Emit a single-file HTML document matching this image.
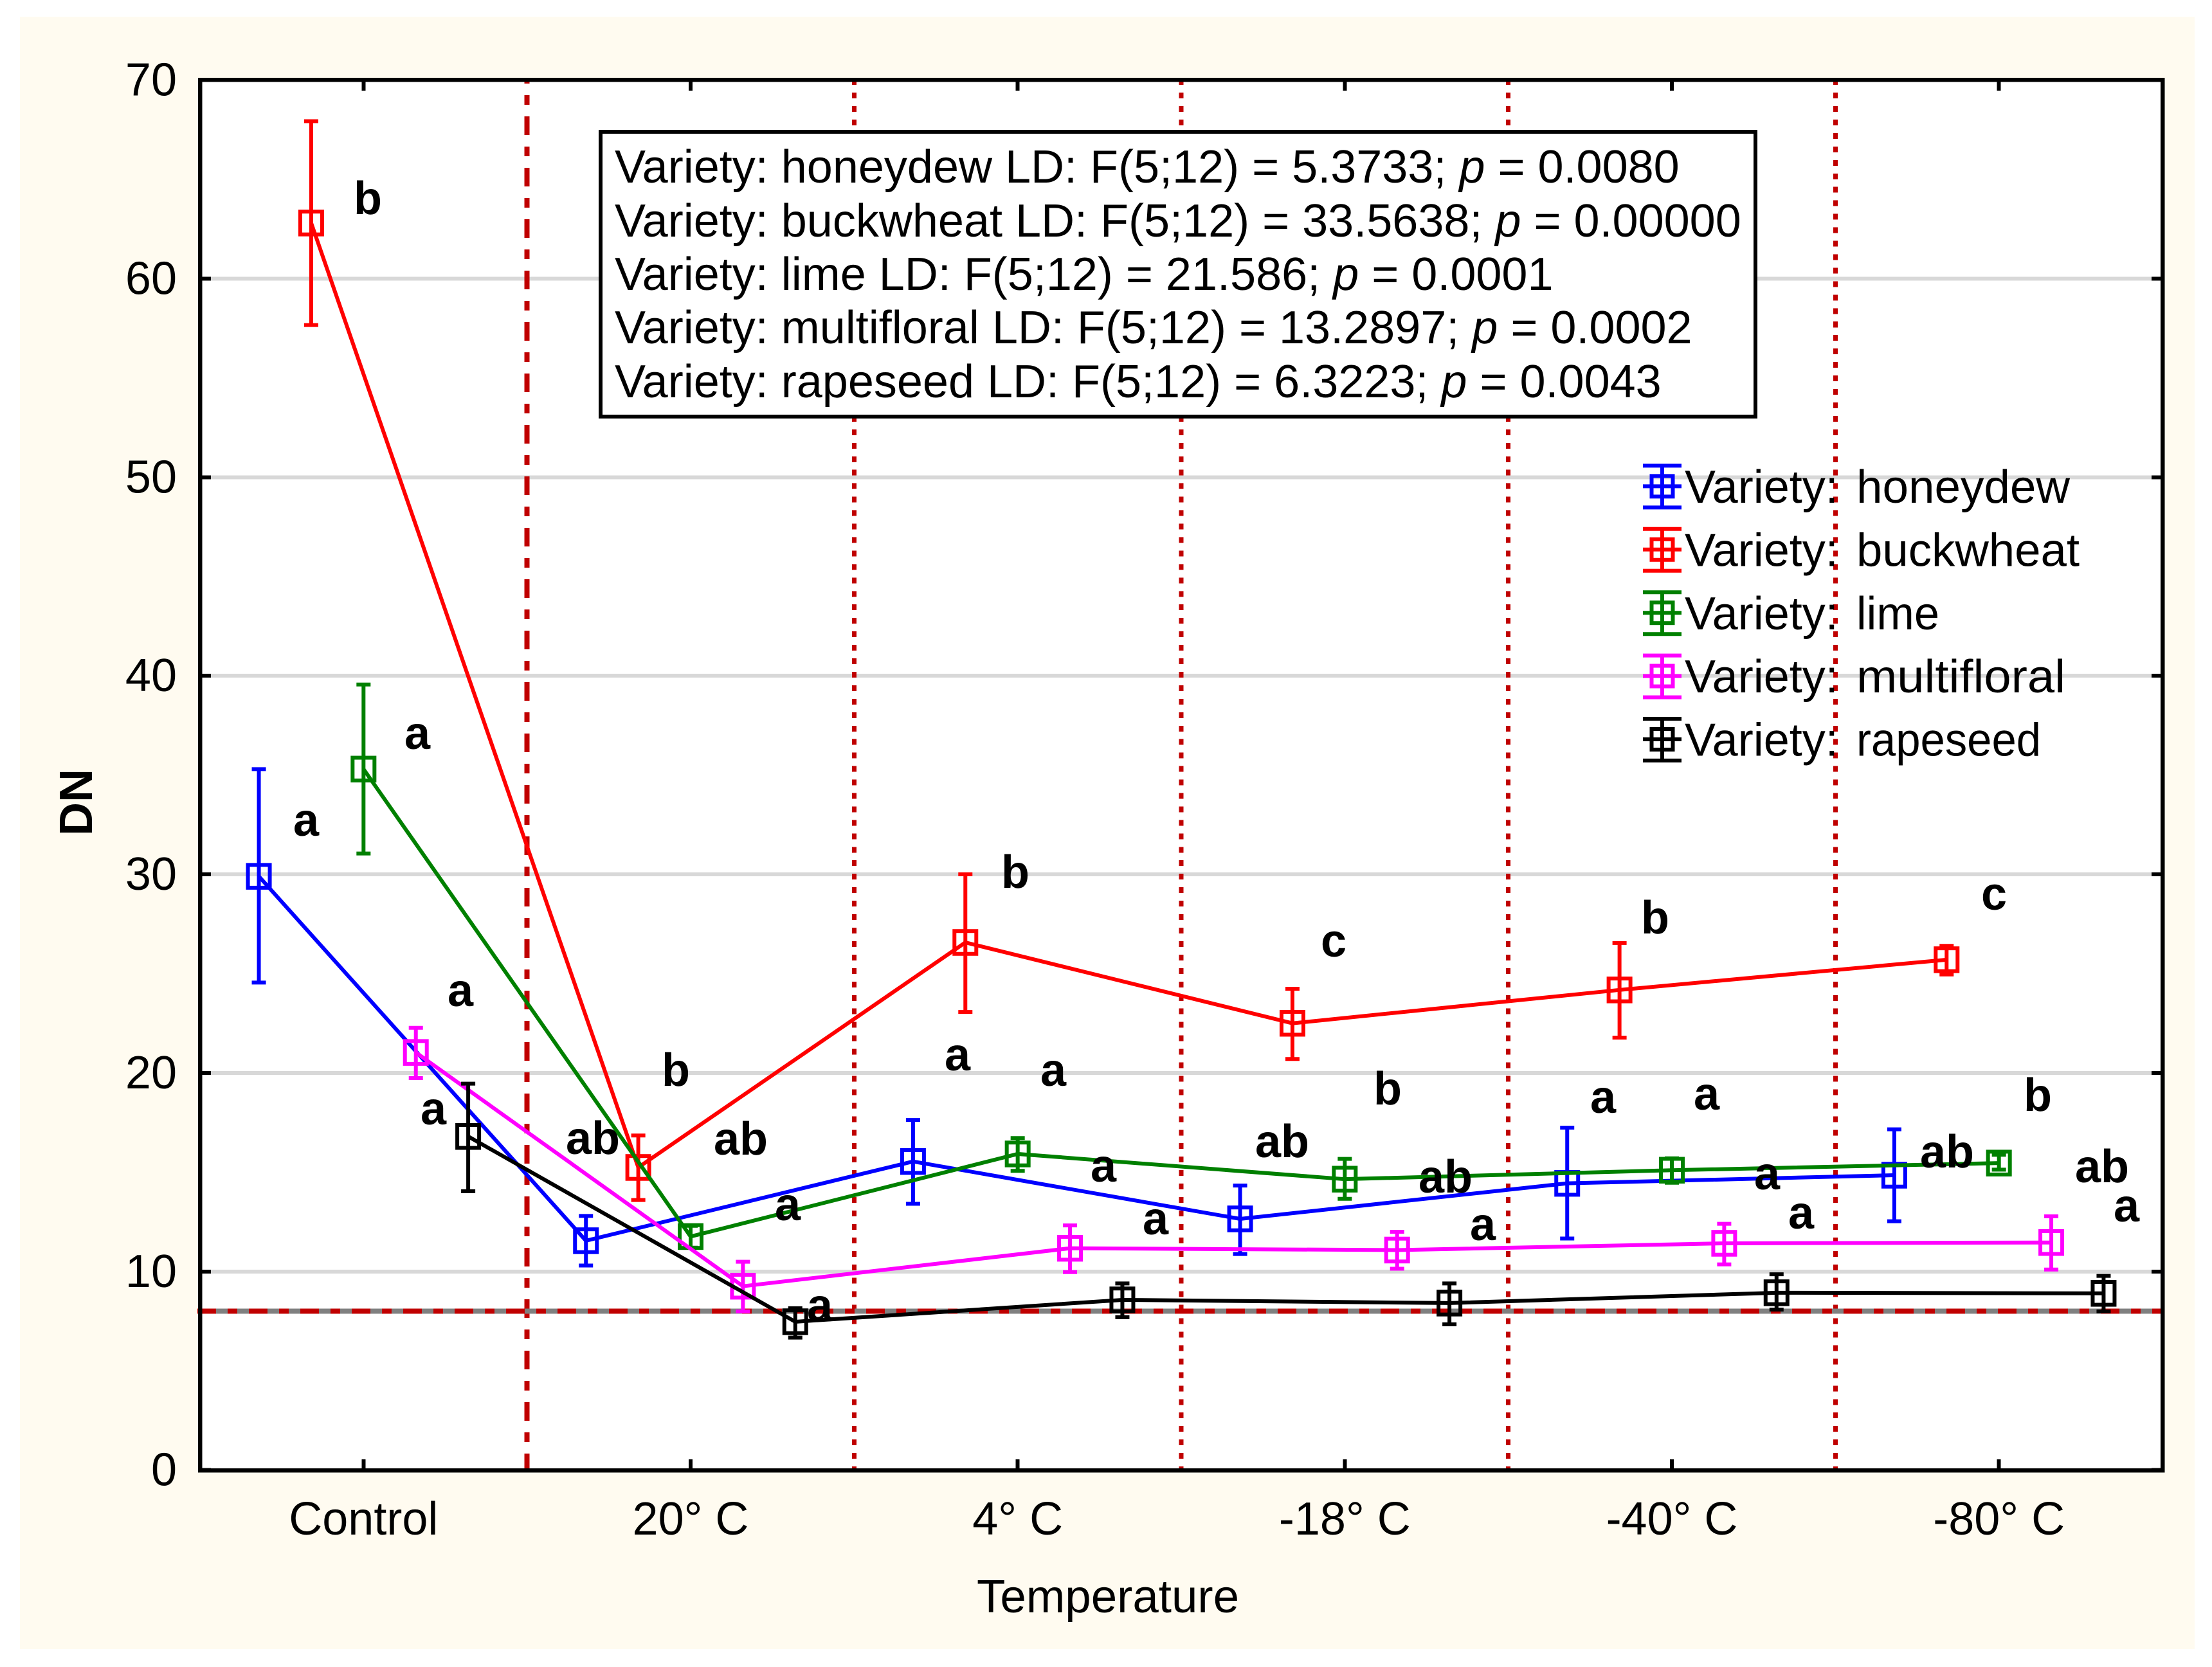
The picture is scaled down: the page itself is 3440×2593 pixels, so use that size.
<!DOCTYPE html>
<html lang="en">
<head>
<meta charset="utf-8">
<title>DN by temperature and honey variety</title>
<style>
html,body{margin:0;padding:0;background:#fff;}
svg{display:block;}
text{font-family:"Liberation Sans",sans-serif;fill:#000;font-size:72px;}
.sig{font-weight:bold;text-anchor:middle;}
</style>
</head>
<body>
<svg id="chart" xmlns="http://www.w3.org/2000/svg" width="3440" height="2593" viewBox="0 0 3440 2593">
  <rect x="31" y="26" width="3382" height="2539" fill="#fffbf0"/>
  <rect x="311" y="124" width="3052" height="2163" fill="#fff"/>
  <g id="grid-layer"></g>
  <g id="divider-layer"></g>
  <g id="reference-layer"></g>
  <g id="series-layer"></g>
  <g id="axis-layer"></g>

  <g>
    <rect x="934" y="205" width="1796" height="443" fill="#fff" stroke="#000" stroke-width="6" shape-rendering="crispEdges"/>
    <text x="956" y="284">Variety: honeydew LD: F(5;12) = 5.3733; <tspan font-style="italic">p</tspan> = 0.0080</text>
    <text x="956" y="368">Variety: buckwheat LD: F(5;12) = 33.5638; <tspan font-style="italic">p</tspan> = 0.00000</text>
    <text x="956" y="451">Variety: lime LD: F(5;12) = 21.586; <tspan font-style="italic">p</tspan> = 0.0001</text>
    <text x="956" y="534">Variety: multifloral LD: F(5;12) = 13.2897; <tspan font-style="italic">p</tspan> = 0.0002</text>
    <text x="956" y="618">Variety: rapeseed LD: F(5;12) = 6.3223; <tspan font-style="italic">p</tspan> = 0.0043</text>
  </g>

  <g id="legend-layer"></g>

  <g>
    <text class="sig" x="572" y="333">b</text>
    <text class="sig" x="476" y="1300">a</text>
    <text class="sig" x="649" y="1165">a</text>
    <text class="sig" x="716" y="1565">a</text>
    <text class="sig" x="674" y="1749">a</text>
    <text class="sig" x="922" y="1795">ab</text>
    <text class="sig" x="1051" y="1689">b</text>
    <text class="sig" x="1152" y="1796">ab</text>
    <text class="sig" x="1225" y="1898">a</text>
    <text class="sig" x="1275" y="2055">a</text>
    <text class="sig" x="1579" y="1381">b</text>
    <text class="sig" x="1489" y="1665">a</text>
    <text class="sig" x="1638" y="1689">a</text>
    <text class="sig" x="1716" y="1838">a</text>
    <text class="sig" x="1797" y="1920">a</text>
    <text class="sig" x="2074" y="1488">c</text>
    <text class="sig" x="2158" y="1718">b</text>
    <text class="sig" x="1994" y="1800">ab</text>
    <text class="sig" x="2248" y="1855">ab</text>
    <text class="sig" x="2306" y="1929">a</text>
    <text class="sig" x="2574" y="1452">b</text>
    <text class="sig" x="2493" y="1731">a</text>
    <text class="sig" x="2654" y="1726">a</text>
    <text class="sig" x="2748" y="1850">a</text>
    <text class="sig" x="2801" y="1911">a</text>
    <text class="sig" x="3101" y="1415">c</text>
    <text class="sig" x="3169" y="1728">b</text>
    <text class="sig" x="3028" y="1816">ab</text>
    <text class="sig" x="3269" y="1839">ab</text>
    <text class="sig" x="3307" y="1900">a</text>
  </g>

  <text x="1519" y="2508" textLength="408" lengthAdjust="spacingAndGlyphs">Temperature</text>
  <text font-weight="bold" text-anchor="middle" transform="translate(143,1248) rotate(-90)">DN</text>
</svg>
<script>
// ---- data ----
const categories = ["Control", "20° C", "4° C", "-18° C", "-40° C", "-80° C"];
const yTickValues = [0, 10, 20, 30, 40, 50, 60, 70];
const referenceValue = 8;

const seriesNames = ["honeydew", "buckwheat", "lime", "multifloral", "rapeseed"];

const honeydewMean  = [29.9, 11.55, 15.54, 12.65, 14.44, 14.85];
const honeydewLower = [24.55, 10.3, 13.41, 10.88, 11.66, 12.53];
const honeydewUpper = [35.3, 12.8, 17.63, 14.33, 17.24, 17.16];

const buckwheatMean  = [62.8, 15.24, 26.57, 22.5, 24.18, 25.7];
const buckwheatLower = [57.66, 13.6, 23.07, 20.7, 21.78, 24.96];
const buckwheatUpper = [67.93, 16.85, 30.0, 24.24, 26.54, 26.4];

const limeMean  = [35.3, 11.76, 15.92, 14.65, 15.1, 15.46];
const limeLower = [31.05, 11.2, 15.07, 13.66, 14.47, 15.13];
const limeUpper = [39.56, 12.3, 16.72, 15.67, 15.7, 15.88];

const multifloralMean  = [21.03, 9.26, 11.17, 11.08, 11.42, 11.46];
const multifloralLower = [19.74, 7.99, 9.97, 10.14, 10.36, 10.1];
const multifloralUpper = [22.27, 10.49, 12.32, 12.0, 12.4, 12.78];

const rapeseedMean  = [16.8, 7.47, 8.57, 8.41, 8.93, 8.9];
const rapeseedLower = [14.04, 6.67, 7.7, 7.34, 8.08, 7.99];
const rapeseedUpper = [19.46, 8.15, 9.4, 9.4, 9.86, 9.78];

// ---- axis functions ----
const plotLeft = 311, plotRight = 3363, plotTop = 124, plotBottom = 2287;
const yMin = 0, yMax = 70;
function yScale(v) { return plotBottom - 0.3 - (v - yMin) / (yMax - yMin) * (plotBottom - 0.3 - plotTop - 0.5); }
function catScale(i) { return plotLeft + (i + 0.5) * (plotRight - plotLeft) / categories.length; }
function dodge(s) { return (s - (seriesNames.length - 1) / 2) * 0.16 * (plotRight - plotLeft) / categories.length; }

const NS = "http://www.w3.org/2000/svg";
function make(parent, tag, attrs) {
  const el = document.createElementNS(NS, tag);
  for (const k in attrs) el.setAttribute(k, attrs[k]);
  parent.appendChild(el);
  return el;
}

const gridLayer = document.getElementById("grid-layer");
const dividerLayer = document.getElementById("divider-layer");
const referenceLayer = document.getElementById("reference-layer");
const seriesLayer = document.getElementById("series-layer");
const axisLayer = document.getElementById("axis-layer");
const legendLayer = document.getElementById("legend-layer");

// gridlines
yTickValues.forEach(function (v) {
  if (v === yMin || v === yMax) return;
  const g = make(gridLayer, "line", { x1: plotLeft, x2: plotRight, y1: yScale(v), y2: yScale(v), stroke: "#d8d8d8", "stroke-width": 6, "shape-rendering": "crispEdges" });
  
  
});

// vertical dividers between temperature groups
for (let i = 0; i < categories.length - 1; i++) {
  const first = i === 0;
  const d = make(dividerLayer, "line", {
    x1: catScale(i + 0.5), x2: catScale(i + 0.5), y1: plotBottom + 3, y2: plotTop,
    stroke: "#c00000", "stroke-width": first ? 8 : 7,
    "stroke-dasharray": first ? "29 18 15 18" : "9 11.95",
    "shape-rendering": "crispEdges"
  });
  
  
}

// horizontal reference line
const refGray = make(referenceLayer, "line", { x1: plotLeft, x2: plotRight, y1: yScale(referenceValue), y2: yScale(referenceValue), stroke: "#808080", "stroke-width": 8, "shape-rendering": "crispEdges" });


const refRed = make(referenceLayer, "line", { x1: plotLeft - 4, x2: plotRight, y1: yScale(referenceValue), y2: yScale(referenceValue), stroke: "#c00000", "stroke-width": 8, "stroke-dasharray": "29 18 15 18", "shape-rendering": "crispEdges" });



// series
const seriesColor = ["#0000ff", "#ff0000", "#008000", "#ff00ff", "#000000"];
const seriesMean = [honeydewMean, buckwheatMean, limeMean, multifloralMean, rapeseedMean];
const seriesLower = [honeydewLower, buckwheatLower, limeLower, multifloralLower, rapeseedLower];
const seriesUpper = [honeydewUpper, buckwheatUpper, limeUpper, multifloralUpper, rapeseedUpper];

seriesNames.forEach(function (name, s) {
  const color = seriesColor[s];
  const group = make(seriesLayer, "g", {});
  
  

  const pts = seriesMean[s].map(function (v, i) { return (catScale(i) + dodge(s)) + "," + yScale(v); }).join(" ");
  const line = make(group, "polyline", { points: pts, fill: "none", stroke: color, "stroke-width": 6, "stroke-linejoin": "miter" });
  
  

  seriesMean[s].forEach(function (v, i) {
    const x = catScale(i) + dodge(s);
    const yLo = yScale(seriesLower[s][i]);
    const yHi = yScale(seriesUpper[s][i]);
    const bar = make(group, "path", {
      d: "M" + x + " " + yLo + "V" + yHi + "M" + (x - 11) + " " + yHi + "H" + (x + 11) + "M" + (x - 11) + " " + yLo + "H" + (x + 11),
      fill: "none", stroke: color, "stroke-width": 6
    });
    
    
    const box = make(group, "rect", { x: x - 17, y: yScale(v) - 17.75, width: 34, height: 35.5, fill: "none", stroke: color, "stroke-width": 6 });
    
    
  });
});

// frame and axes
const frame = make(axisLayer, "rect", { x: plotLeft, y: plotTop, width: plotRight - plotLeft, height: plotBottom - plotTop, fill: "none", stroke: "#000", "stroke-width": 6.5, "shape-rendering": "crispEdges" });



yTickValues.forEach(function (v) {
  const y = yScale(v);
  const tick = make(axisLayer, "path", { d: "M" + plotLeft + " " + y + "h17M" + plotRight + " " + y + "h-17", stroke: "#000", "stroke-width": 6, fill: "none", "shape-rendering": "crispEdges" });
  
  
  const label = make(axisLayer, "text", { x: 275, y: y + 24, "text-anchor": "end" });
  label.textContent = String(v);
  
  
});

categories.forEach(function (c, i) {
  const x = catScale(i);
  const tick = make(axisLayer, "path", { d: "M" + x + " " + plotBottom + "v-17M" + x + " " + plotTop + "v17", stroke: "#000", "stroke-width": 6, fill: "none", "shape-rendering": "crispEdges" });
  
  
  const label = make(axisLayer, "text", { x: x, y: 2387, "text-anchor": "middle" });
  label.textContent = c;
  
  
});

// legend (rendered widths of the variety names, a layout measure, not data)
const legendNameWidth = { honeydew: 332, buckwheat: 347, lime: 129, multifloral: 325, rapeseed: 287 };
seriesNames.forEach(function (name, s) {
  const cy = 756.4 + s * 98.4;
  const cx = 2585;
  const color = seriesColor[s];
  const entry = make(legendLayer, "g", {});
  
  
  const glyph = make(entry, "path", {
    d: "M" + cx + " " + (cy - 32) + "V" + (cy + 33) + "M" + (cx - 30) + " " + (cy - 32) + "H" + (cx + 30) + "M" + (cx - 30) + " " + (cy + 33) + "H" + (cx + 30) + "M" + (cx - 30) + " " + cy + "H" + (cx + 30),
    fill: "none", stroke: color, "stroke-width": 6
  });
  
  
  const sq = make(entry, "rect", { x: cx - 16.5, y: cy - 16, width: 33, height: 32, fill: "none", stroke: color, "stroke-width": 6 });
  
  
  const prefix = make(entry, "text", { x: 2620, y: cy + 25.6 });
  prefix.textContent = "Variety:";
  
  
  const label = make(entry, "text", { x: 2887, y: cy + 25.6, textLength: legendNameWidth[name], lengthAdjust: "spacingAndGlyphs" });
  label.textContent = name;
  
  
});
</script>
</body>
</html>
